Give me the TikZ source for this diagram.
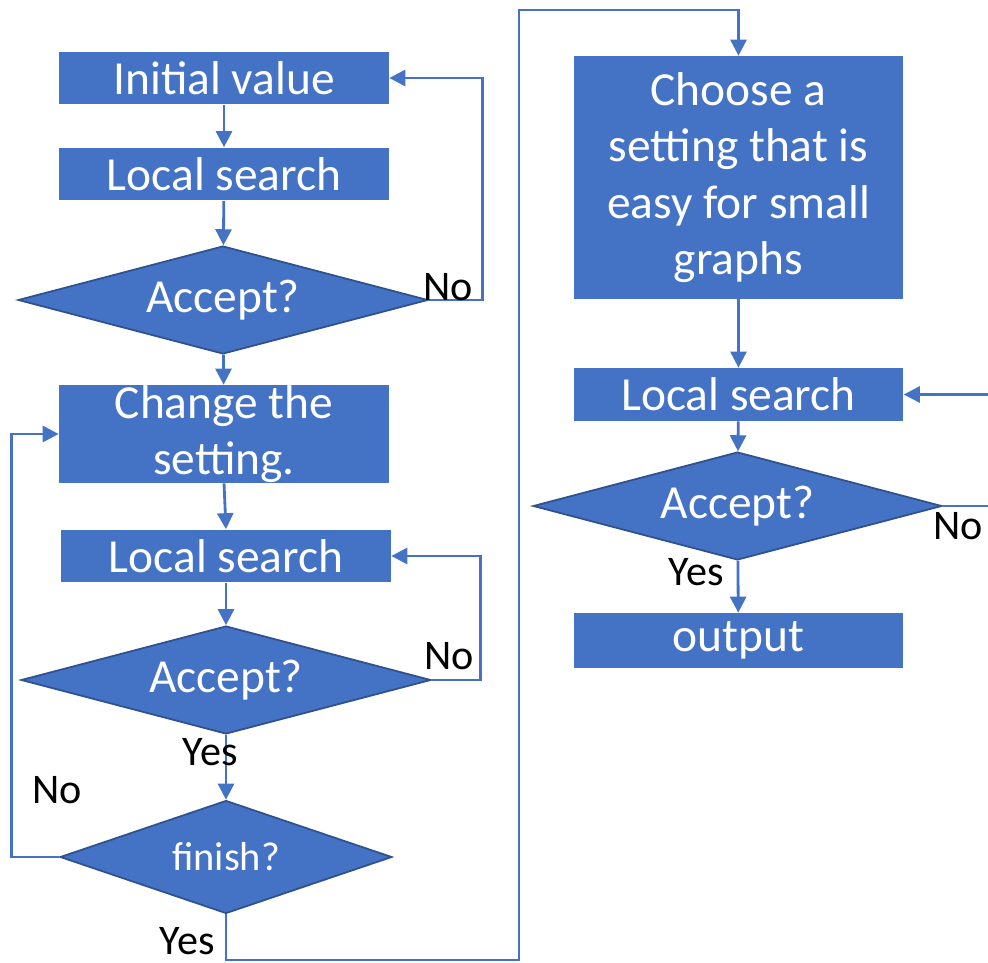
\documentclass[tikz,border=0pt]{standalone}
\usepackage{fontspec}
\setmainfont{Carlito}
\usetikzlibrary{shapes.geometric,arrows.meta}
\definecolor{boxblue}{HTML}{4472C4}
\definecolor{edgeblue}{HTML}{2F528F}
\tikzset{
  stepbox/.style={fill=boxblue, text=white, minimum width=6.6cm, minimum height=1.06cm,
    inner sep=0pt, align=center, font=\fontsize{27}{32}\selectfont},
  test/.style={diamond, aspect=3.8, fill=boxblue, draw=edgeblue, line width=1pt, text=white,
    minimum width=8.2cm, minimum height=2.16cm, inner sep=0pt, font=\fontsize{27}{32}\selectfont},
  flow/.style={draw=boxblue, line width=1.6pt, -{Triangle[length=0.32cm,width=0.32cm]}},
  wire/.style={draw=boxblue, line width=1.6pt},
  tag/.style={font=\fontsize{24}{28}\selectfont, inner sep=0pt},
}
\begin{document}
\begin{tikzpicture}[x=0.02cm, y=-0.02cm]
\useasboundingbox (0,0) rectangle (988,963);
% left column
\node[stepbox] (init) at (224,78) {Initial value};
\node[stepbox] (ls1) at (224,174) {Local search};
\node[test] (acc1) at (223,300) {Accept?};
\node[stepbox, minimum height=1.96cm] (change) at (224,434) {Change the\\setting.};
\node[stepbox] (ls2) at (226,556) {Local search};
\node[test] (acc2) at (226,680) {Accept?};
\node[test, aspect=2.9, minimum width=6.64cm, minimum height=2.26cm, font=\fontsize{23}{28}\selectfont] (fin) at (226,857) {finish?};
% right column
\node[stepbox, minimum height=4.86cm] (choose) at (738.5,177.5) {Choose a\\setting that is\\easy for small\\graphs};
\node[stepbox] (ls3) at (738.5,394.5) {Local search};
\node[test, minimum width=8.18cm] (acc3) at (737.5,506) {Accept?};
\node[stepbox, minimum height=1.1cm] (out) at (738.5,640.5) {output};
\coordinate (c1) at (519,960);
\coordinate (c2) at (519,10);
\coordinate (in3) at (988,394.5);
\coordinate (out3) at (988,506);
% connectors
\draw[flow] (init) -- (ls1);
\draw[flow] (ls1) -- (acc1);
\draw[flow] (acc1.east) -- ++(54,0) |- (init.east); % retry 1
\draw[flow] (acc1) -- (change);
\draw[flow] (change.south) -- (ls2.north);
\draw[flow] (ls2) -- (acc2);
\draw[flow] (acc2.east) -- ++(49,0) |- (ls2.east); % retry 2
\draw[flow] (acc2) -- (fin);
\draw[flow] (fin.west) -- ++(-48,0) |- (change.west); % next setting
\draw[flow] (fin.south) |- (c1) -- (c2) -| (choose.north);
\draw[flow] (choose) -- (ls3);
\draw[flow] (in3) -- (ls3.east);
\draw[flow] (ls3) -- (acc3);
\draw[wire] (acc3.east) -- (out3);
\draw[flow] (acc3) -- (out);
% labels
\node[tag] (no1) at (448,287) {No};
\node[tag] (no2) at (449,656) {No};
\node[tag] (yes2) at (210,752) {Yes};
\node[tag] (no3) at (57,790) {No};
\node[tag] (yes3) at (187,941) {Yes};
\node[tag] (no4) at (958,526) {No};
\node[tag] (yes4) at (696,572) {Yes};
\end{tikzpicture}
\end{document}
